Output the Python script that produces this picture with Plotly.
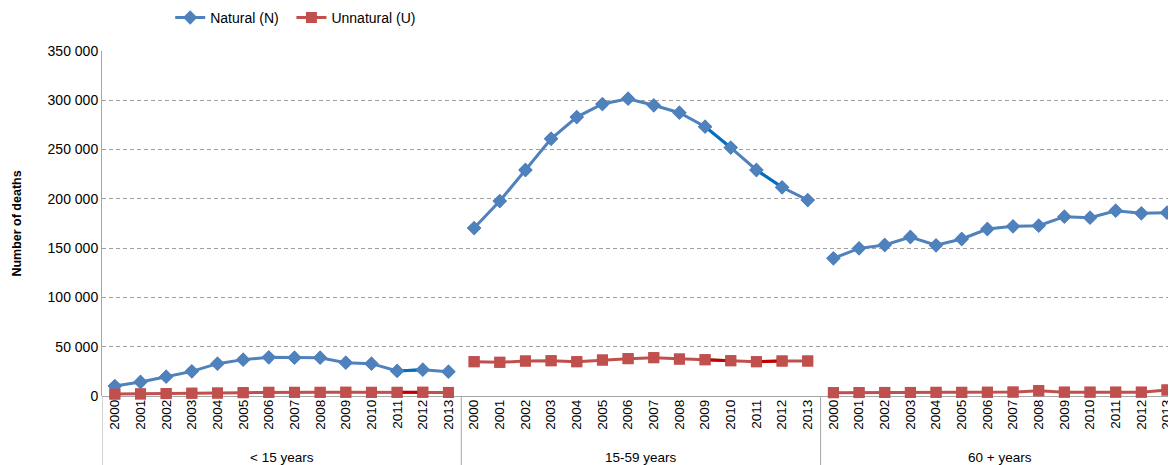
import plotly.graph_objects as go

groups = ["< 15 years", "15-59 years", "60 + years"]
years = [str(y) for y in range(2000, 2014)]
series_names = ["Natural (N)", "Unnatural (U)"]

natural_u15 = [10100, 14200, 19600, 25000, 32800, 36900, 39200, 38900, 38900, 33800, 32800, 25400, 26700, 24700]
natural_15_59 = [170400, 197800, 229300, 261000, 283000, 296200, 301600, 294900, 287400, 273200, 252000, 229300, 211700, 198800]
natural_60p = [139700, 149800, 153200, 161300, 152900, 159300, 169400, 172100, 172800, 181900, 180900, 188000, 185300, 186000]

unnatural_u15 = [2000, 2100, 2500, 2800, 3000, 3400, 3700, 3700, 3700, 3800, 3700, 3700, 3800, 3600]
unnatural_15_59 = [34800, 34200, 35500, 35800, 34800, 36500, 37900, 38900, 37500, 36800, 35800, 34800, 35500, 35500]
unnatural_60p = [3400, 3500, 3600, 3600, 3700, 3700, 3800, 4000, 5400, 3900, 3900, 3900, 3900, 6100]

natural = [natural_u15, natural_15_59, natural_60p]
unnatural = [unnatural_u15, unnatural_15_59, unnatural_60p]

# segments drawn in a darker shade in the original (group index, start year index)
dark_nat_segments = [(0, 11), (1, 9), (1, 11)]
dark_unn_segments = [(0, 11), (1, 9), (1, 11)]

NAT = "#4F81BD"
UNN = "#C0504D"
NAT_DARK = "#0070C0"
UNN_DARK = "#C00000"

n = len(years)
fig = go.Figure()

for gi, g in enumerate(groups):
    xs = [gi * n + i for i in range(n)]
    fig.add_trace(go.Scatter(
        x=xs, y=natural[gi], mode="lines+markers", name=series_names[0] + "&nbsp;&nbsp;",
        legendgroup="N", showlegend=(gi == 0),
        line=dict(color=NAT, width=3),
        marker=dict(symbol="diamond", size=11, color=NAT),
        cliponaxis=False,
    ))
    fig.add_trace(go.Scatter(
        x=xs, y=unnatural[gi], mode="lines+markers", name=series_names[1],
        legendgroup="U", showlegend=(gi == 0),
        line=dict(color=UNN, width=3),
        marker=dict(symbol="square", size=11, color=UNN),
        cliponaxis=False,
    ))

for (gi, s) in dark_nat_segments:
    fig.add_trace(go.Scatter(
        x=[gi * n + s, gi * n + s + 1], y=natural[gi][s:s + 2], mode="lines",
        line=dict(color=NAT_DARK, width=3), showlegend=False, hoverinfo="skip"))
for (gi, s) in dark_unn_segments:
    fig.add_trace(go.Scatter(
        x=[gi * n + s, gi * n + s + 1], y=unnatural[gi][s:s + 2], mode="lines",
        line=dict(color=UNN_DARK, width=3), showlegend=False, hoverinfo="skip"))

# redraw markers on top of dark segments
for gi in range(3):
    xs = [gi * n + i for i in range(n)]
    fig.add_trace(go.Scatter(x=xs, y=natural[gi], mode="markers", showlegend=False, hoverinfo="skip",
                             marker=dict(symbol="diamond", size=11, color=NAT), cliponaxis=False))
    fig.add_trace(go.Scatter(x=xs, y=unnatural[gi], mode="markers", showlegend=False, hoverinfo="skip",
                             marker=dict(symbol="square", size=11, color=UNN), cliponaxis=False))

tickvals = list(range(3 * n))
ticktext = years * 3

shapes = []
for b in [-0.5, n - 0.5, 2 * n - 0.5]:
    shapes.append(dict(type="line", xref="x", yref="paper", x0=b, x1=b, y0=0, y1=-0.21,
                       line=dict(color="#A6A6A6", width=1)))

annotations = []
for gi, g in enumerate(groups):
    annotations.append(dict(x=gi * n + (n - 1) / 2, y=-0.177, xref="x", yref="paper",
                            text=g, showarrow=False, font=dict(size=13.5, color="#000000"),
                            xanchor="center", yanchor="middle"))

# page body has an 8px margin; figure is sized so it fills the 1176x465 window
fig.update_layout(
    width=1168, height=457,
    margin=dict(l=94, r=0, t=43, b=69, autoexpand=False),
    paper_bgcolor="white", plot_bgcolor="white",
    font=dict(family="Liberation Sans, Arial, sans-serif", size=13, color="#000000"),
    separators=". ",
    showlegend=True,
    legend=dict(orientation="h", x=0.0635, y=1.096, xanchor="left", yanchor="middle",
                font=dict(size=14), itemwidth=30, bgcolor="rgba(0,0,0,0)"),
    xaxis=dict(range=[-0.5, 3 * n - 0.65], tickmode="array", tickvals=tickvals, ticktext=ticktext,
               tickangle=-90, showgrid=False, zeroline=False, showline=False,
               ticks="", tickfont=dict(size=13.5), fixedrange=True, automargin=False),
    yaxis=dict(range=[0, 350000], tickvals=[0, 50000, 100000, 150000, 200000, 250000, 300000, 350000],
               tickformat=",d", showgrid=True, gridcolor="#A0A0A0", griddash="4px,3px", gridwidth=1,
               zeroline=True, zerolinecolor="#A6A6A6", zerolinewidth=1,
               showline=True, linecolor="#A6A6A6", linewidth=1,
               ticks="", tickfont=dict(size=14), automargin=False,
               title=dict(text="<b>Number of deaths</b>", font=dict(size=12.5), standoff=23)),
    shapes=shapes,
    annotations=annotations,
)

fig.write_html("out.html")
